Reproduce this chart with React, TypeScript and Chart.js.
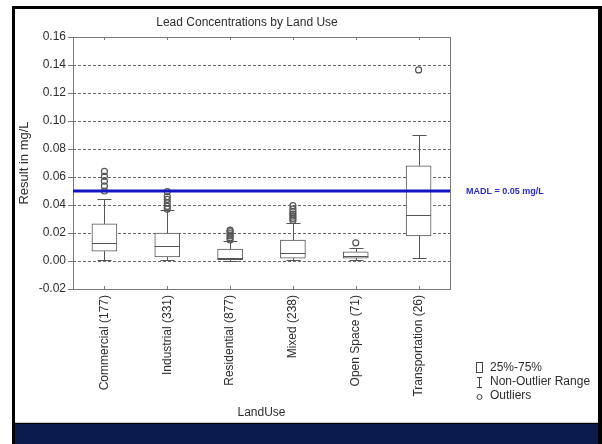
import React, { useEffect, useRef } from 'react';
import { Chart, registerables } from 'chart.js';

Chart.register(...registerables);

const categories = [
  'Commercial (177)',
  'Industrial (331)',
  'Residential (877)',
  'Mixed (238)',
  'Open Space (71)',
  'Transportation (26)',
];
const q1 = [0.007, 0.003, 0.001, 0.002, 0.002, 0.018];
const q3 = [0.0265, 0.02, 0.0085, 0.015, 0.0065, 0.068];
const medians = [0.013, 0.0105, 0.0025, 0.0055, 0.0035, 0.033];
const whiskerLow = [0.001, 0.001, 0.0003, 0.0005, 0.0005, 0.002];
const whiskerHigh = [0.044, 0.0365, 0.014, 0.0275, 0.009, 0.09];
const outliers = [
  [0.05, 0.0535, 0.057, 0.0605, 0.064],
  [0.037, 0.039, 0.0415, 0.044, 0.046, 0.0495],
  [0.015, 0.0165, 0.018, 0.0195, 0.021, 0.022],
  [0.029, 0.0305, 0.032, 0.0335, 0.035, 0.037, 0.0395],
  [0.013],
  [0.1365],
];
const yMin = -0.02;
const yMax = 0.16;
const yStep = 0.02;
const madl = 0.05;
const titleText = 'Lead Concentrations by Land Use';
const yTitle = 'Result in mg/L';
const xTitle = 'LandUse';
const madlLabel = 'MADL = 0.05 mg/L';
const legendItems = ['25%-75%', 'Non-Outlier Range', 'Outliers'];

const FONT = '"Liberation Sans", Arial, sans-serif';

export default function App() {
  const ref = useRef<HTMLCanvasElement>(null);

  useEffect(() => {
    const canvas = ref.current;
    if (!canvas) return;
    const boxColor = '#555';
    const textColor = '#2e2e2e';

    const deco = {
      id: 'deco',
      beforeDraw(chart: any) {
        const c = chart.ctx;
        c.save();
        c.fillStyle = '#fff';
        c.fillRect(0, 0, 602, 444);
        c.fillStyle = '#000';
        c.fillRect(12, 6, 590, 438);
        c.fillStyle = '#fff';
        c.fillRect(15, 9, 583, 414);
        c.fillStyle = '#c8c8c8';
        c.fillRect(15, 422, 583, 1);
        c.fillStyle = '#0c1b4d';
        c.fillRect(15, 424, 583, 20);
        c.restore();
      },
      beforeDatasetsDraw(chart: any) {
        const c = chart.ctx;
        const { x, y } = chart.scales;
        const a = chart.chartArea;
        c.save();
        c.strokeStyle = '#6a6a6a';
        c.lineWidth = 1;
        c.setLineDash([3, 2]);
        y.ticks.forEach((t: any) => {
          if (Math.abs(t.value - yMin) < 1e-9 || Math.abs(t.value - yMax) < 1e-9) return;
          const py = Math.round(y.getPixelForValue(t.value)) + 0.5;
          c.beginPath();
          c.moveTo(a.left, py);
          c.lineTo(a.right, py);
          c.stroke();
        });
        c.setLineDash([]);
        c.strokeStyle = '#7a7a7a';
        c.strokeRect(Math.round(a.left) + 0.5, Math.round(a.top) + 0.5, Math.round(a.right - a.left), Math.round(a.bottom - a.top));
        y.ticks.forEach((t: any) => {
          const py = Math.round(y.getPixelForValue(t.value)) + 0.5;
          c.beginPath();
          c.moveTo(a.left - 5, py);
          c.lineTo(a.left, py);
          c.stroke();
        });
        categories.forEach((_, i) => {
          const px = Math.round(x.getPixelForValue(i)) + 0.5;
          c.beginPath();
          c.moveTo(px, a.top);
          c.lineTo(px, a.top + 3);
          c.moveTo(px, a.bottom);
          c.lineTo(px, a.bottom - 3);
          c.stroke();
        });
        c.strokeStyle = boxColor;
        categories.forEach((_, i) => {
          const px = Math.round(x.getPixelForValue(i)) + 0.5;
          const hi = Math.round(y.getPixelForValue(whiskerHigh[i])) + 0.5;
          const lo = Math.round(y.getPixelForValue(whiskerLow[i])) + 0.5;
          const top = y.getPixelForValue(q3[i]);
          const bot = y.getPixelForValue(q1[i]);
          c.beginPath();
          c.moveTo(px, top);
          c.lineTo(px, hi);
          c.moveTo(px - 7, hi);
          c.lineTo(px + 7, hi);
          c.moveTo(px, bot);
          c.lineTo(px, lo);
          c.moveTo(px - 7, lo);
          c.lineTo(px + 7, lo);
          c.stroke();
        });
        c.restore();
      },
      afterDatasetsDraw(chart: any) {
        const c = chart.ctx;
        const { x, y } = chart.scales;
        const a = chart.chartArea;
        c.save();
        c.strokeStyle = boxColor;
        c.lineWidth = 1;
        categories.forEach((_, i) => {
          const px = x.getPixelForValue(i);
          const py = Math.round(y.getPixelForValue(medians[i])) + 0.5;
          c.beginPath();
          c.moveTo(px - 12.5, py);
          c.lineTo(px + 12.5, py);
          c.stroke();
        });
        const my = y.getPixelForValue(madl);
        c.strokeStyle = '#1414c4';
        c.lineWidth = 3;
        c.beginPath();
        c.moveTo(a.left, my);
        c.lineTo(a.right, my);
        c.stroke();
        c.fillStyle = '#2a2ad0';
        c.font = 'bold 9px ' + FONT;
        c.textAlign = 'left';
        c.textBaseline = 'middle';
        c.fillText(madlLabel, a.right + 16, my + 1);
        c.fillStyle = textColor;
        c.font = '12px ' + FONT;
        c.textAlign = 'center';
        c.textBaseline = 'middle';
        c.fillText(titleText, 247, 23);
        c.fillText(xTitle, (a.left + a.right) / 2, 413);
        c.save();
        c.translate(24, (a.top + a.bottom) / 2);
        c.rotate(-Math.PI / 2);
        c.font = '13px ' + FONT;
        c.fillText(yTitle, 0, 0);
        c.restore();
        c.textAlign = 'left';
        c.font = '12px ' + FONT;
        c.fillStyle = textColor;
        const lx = 490;
        const ly = [368, 382, 396];
        legendItems.forEach((t, i) => c.fillText(t, lx, ly[i]));
        c.strokeStyle = '#444';
        c.lineWidth = 1;
        c.strokeRect(476.5, 362.5, 6, 10);
        c.beginPath();
        c.moveTo(479.5, 377);
        c.lineTo(479.5, 388);
        c.moveTo(477, 377.5);
        c.lineTo(482, 377.5);
        c.moveTo(477, 387.5);
        c.lineTo(482, 387.5);
        c.stroke();
        c.beginPath();
        c.arc(479.5, 397, 2.5, 0, Math.PI * 2);
        c.stroke();
        c.restore();
      },
    };

    const chart = new Chart(canvas, {
      type: 'bar',
      data: {
        labels: categories,
        datasets: [
          {
            type: 'bar',
            data: categories.map((_, i) => [q1[i], q3[i]]) as any,
            backgroundColor: '#fff',
            borderColor: boxColor,
            borderWidth: 1,
            borderSkipped: false,
            barThickness: 25,
          },
          {
            type: 'line',
            data: outliers.flatMap((arr, i) => arr.map((v) => ({ x: categories[i], y: v }))) as any,
            showLine: false,
            pointRadius: 3,
            pointBorderColor: boxColor,
            pointBackgroundColor: 'rgba(0,0,0,0)',
            pointBorderWidth: 1.2,
          },
        ],
      },
      options: {
        responsive: false,
        animation: false,
        events: [],
        layout: { padding: { left: 14, top: 37, right: 152, bottom: 45 } },
        plugins: { legend: { display: false }, tooltip: { enabled: false }, title: { display: false } },
        scales: {
          x: {
            type: 'category',
            offset: true,
            grid: { display: false, drawTicks: false },
            border: { display: false },
            ticks: {
              autoSkip: false,
              maxRotation: 90,
              minRotation: 90,
              padding: 6,
              color: textColor,
              font: { family: FONT, size: 12 },
            },
            afterFit: (s: any) => {
              s.height = 110;
            },
          },
          y: {
            min: yMin,
            max: yMax,
            grid: { display: false, drawTicks: false },
            border: { display: false },
            ticks: {
              stepSize: yStep,
              padding: 7,
              color: textColor,
              font: { family: FONT, size: 12 },
              callback: (v: any) => Number(v).toFixed(2),
            },
            afterFit: (s: any) => {
              s.width = 59;
            },
          },
        },
      },
      plugins: [deco],
    });
    return () => chart.destroy();
  }, []);

  return (
    <div style={{ position: 'absolute', left: 0, top: 0, width: 602, height: 444 }}>
      <canvas ref={ref} width={602} height={444} style={{ display: 'block' }} />
    </div>
  );
}
